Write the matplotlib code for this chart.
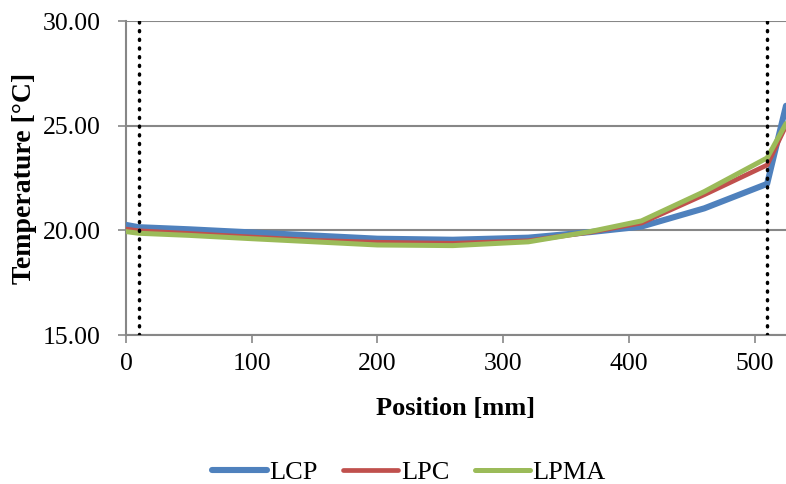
import matplotlib.pyplot as plt
import numpy as np

# positions along the part [mm]
pos = [0, 10, 50, 100, 150, 200, 260, 320, 370, 410, 460, 510, 525]

lcp  = [20.26, 20.15, 20.05, 19.90, 19.75, 19.60, 19.55, 19.65, 19.92, 20.18, 21.05, 22.22, 25.95]
lpc  = [20.06, 19.98, 19.85, 19.68, 19.52, 19.43, 19.38, 19.50, 19.92, 20.35, 21.70, 23.12, 25.00]
lpma = [19.94, 19.86, 19.76, 19.60, 19.45, 19.30, 19.27, 19.45, 19.95, 20.45, 21.85, 23.46, 25.10]

series = [("LCP", lcp, "#4F81BD", 4.4),
          ("LPC", lpc, "#C0504D", 3.4),
          ("LPMA", lpma, "#9BBB59", 3.6)]

bounds = [10, 510]

plt.rcParams['font.family'] = ['Liberation Serif', 'DejaVu Serif']

fig = plt.figure(figsize=(7.86, 4.84), dpi=100)
ax = fig.add_axes([126/786, 1 - 335/484, 1 - 126/786, (335 - 21)/484])

for name, vals, col, lw in series:
    ax.plot(pos, vals, color=col, lw=lw, label=name, solid_capstyle='round', zorder=3)

for b in bounds:
    ax.axvline(b, color='black', lw=2.5, ls=(0, (0.3, 2.2)), dash_capstyle='round', zorder=4)

ax.set_xlim(0, 525)
ax.set_ylim(15, 30)
ax.set_xticks(np.arange(0, 501, 100))
ax.set_yticks(np.arange(15, 30.1, 5))
ax.set_yticklabels([f"{v:.2f}" for v in np.arange(15, 30.1, 5)])
ax.grid(axis='y', color='#878787', lw=1.5)
ax.set_axisbelow(True)

for s in ['top', 'right']:
    ax.spines[s].set_visible(False)
for s in ['left', 'bottom']:
    ax.spines[s].set_color('#878787')
    ax.spines[s].set_linewidth(1.5)

ax.tick_params(axis='both', colors='#878787', labelcolor='black', labelsize=18.5,
               width=1.2, length=6)
ax.tick_params(axis='x', pad=7)
ax.tick_params(axis='y', pad=12)

ax.set_xlabel("Position [mm]", fontsize=19, fontweight='bold', labelpad=16)
ax.set_ylabel("Temperature [°C]", fontsize=20, fontweight='bold', labelpad=4)

fig.legend(loc='lower center', bbox_to_anchor=(0.52, -0.05), ncol=3, frameon=False,
           fontsize=19, handlelength=2.1, columnspacing=0.95, handletextpad=0.1)

fig.savefig('out.png', dpi=100)
